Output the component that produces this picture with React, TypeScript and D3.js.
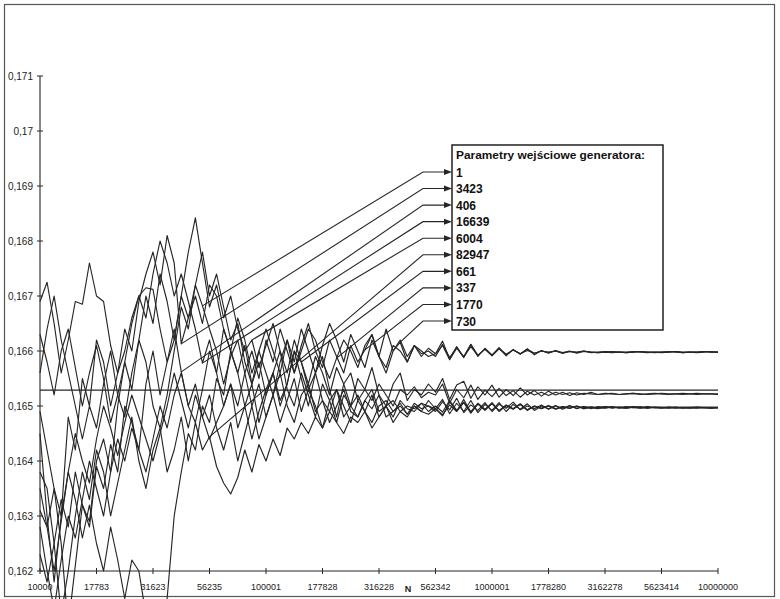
import React from 'react';
import * as d3 from 'd3';

// category labels on the N axis (one every 8 points)
const nLabels = ['10000', '17783', '31623', '56235', '100001', '177828', '316228', '562342',
  '1000001', '1778280', '3162278', '5623414', '10000000'];
const pointsPerLabel = 8;

const yTicks = [0.162, 0.163, 0.164, 0.165, 0.166, 0.167, 0.168, 0.169, 0.17, 0.171];
const yTickLabels = ['0,162', '0,163', '0,164', '0,165', '0,166', '0,167', '0,168', '0,169', '0,17', '0,171'];

const legendTitle = 'Parametry wejściowe generatora:';
const seriesNames = ['1', '3423', '406', '16639', '6004', '82947', '661', '337', '1770', '730'];

// horizontal reference level
const referenceValue = 0.16529;

const s1 = [
  0.16690, 0.16725, 0.16650, 0.16560, 0.16620, 0.16690, 0.16685, 0.16760,
  0.16700, 0.16690, 0.16610, 0.16560, 0.16600, 0.16660, 0.16700, 0.16715,
  0.16712, 0.16640, 0.16580, 0.16620, 0.16700, 0.16660, 0.16720, 0.16682,
  0.16640, 0.16600, 0.16540, 0.16590, 0.16620, 0.16560, 0.16500, 0.16540,
  0.16480, 0.16520, 0.16560, 0.16500, 0.16470, 0.16520, 0.16540, 0.16490,
  0.16510, 0.16470, 0.16500, 0.16530, 0.16490, 0.16480, 0.16510, 0.16495,
  0.16520, 0.16480, 0.16490, 0.16505, 0.16485, 0.16500, 0.16490, 0.16510,
  0.16495, 0.16512, 0.16486, 0.16505, 0.16490, 0.16510, 0.16488, 0.16503,
  0.16492, 0.16506, 0.16490, 0.16503, 0.16494, 0.16504, 0.16492, 0.16500,
  0.16495, 0.16501, 0.16494, 0.16500, 0.16496, 0.16499, 0.16495, 0.16499,
  0.16497, 0.16499, 0.16496, 0.16498, 0.16497, 0.16499, 0.16496, 0.16498,
  0.16497, 0.16498, 0.16497, 0.16497, 0.16496, 0.16497, 0.16498, 0.16497,
  0.16497,
];
const s2 = [
  0.16450, 0.16300, 0.16180, 0.16300, 0.16480, 0.16420, 0.16550, 0.16500,
  0.16620, 0.16580, 0.16500, 0.16560, 0.16640, 0.16600, 0.16690, 0.16740,
  0.16780, 0.16720, 0.16810, 0.16760, 0.16613, 0.16660, 0.16700, 0.16650,
  0.16720, 0.16700, 0.16640, 0.16600, 0.16560, 0.16610, 0.16540, 0.16580,
  0.16520, 0.16560, 0.16600, 0.16530, 0.16500, 0.16560, 0.16520, 0.16480,
  0.16540, 0.16510, 0.16470, 0.16520, 0.16500, 0.16480, 0.16510, 0.16530,
  0.16490, 0.16500, 0.16480, 0.16510, 0.16495, 0.16490, 0.16505, 0.16500,
  0.16495, 0.16482, 0.16508, 0.16490, 0.16512, 0.16488, 0.16504, 0.16493,
  0.16506, 0.16491, 0.16502, 0.16495, 0.16503, 0.16493, 0.16500, 0.16496,
  0.16501, 0.16495, 0.16499, 0.16496, 0.16500, 0.16495, 0.16498, 0.16497,
  0.16499, 0.16496, 0.16498, 0.16497, 0.16499, 0.16497, 0.16496, 0.16498,
  0.16497, 0.16496, 0.16498, 0.16497, 0.16497, 0.16498, 0.16497, 0.16496,
  0.16497,
];
const s3 = [
  0.16310, 0.16280, 0.16350, 0.16250, 0.16100, 0.16210, 0.16320, 0.16280,
  0.16390, 0.16350, 0.16430, 0.16380, 0.16500, 0.16470, 0.16420, 0.16540,
  0.16600, 0.16520, 0.16580, 0.16640, 0.16562, 0.16500, 0.16540, 0.16480,
  0.16520, 0.16460, 0.16420, 0.16470, 0.16400, 0.16450, 0.16500, 0.16440,
  0.16480, 0.16520, 0.16470, 0.16510, 0.16550, 0.16490, 0.16530, 0.16500,
  0.16460, 0.16510, 0.16530, 0.16480, 0.16500, 0.16520, 0.16490, 0.16470,
  0.16500, 0.16510, 0.16490, 0.16500, 0.16485, 0.16505, 0.16495, 0.16500,
  0.16490, 0.16508, 0.16493, 0.16514, 0.16488, 0.16502, 0.16492, 0.16506,
  0.16490, 0.16503, 0.16496, 0.16507, 0.16493, 0.16500, 0.16495, 0.16502,
  0.16494, 0.16500, 0.16496, 0.16501, 0.16495, 0.16499, 0.16497, 0.16495,
  0.16499, 0.16497, 0.16498, 0.16496, 0.16498, 0.16497, 0.16499, 0.16497,
  0.16497, 0.16497, 0.16498, 0.16496, 0.16497, 0.16498, 0.16497, 0.16497,
  0.16498,
];
const s4 = [
  0.16630, 0.16580, 0.16520, 0.16600, 0.16640, 0.16570, 0.16500, 0.16560,
  0.16610, 0.16550, 0.16470, 0.16520, 0.16580, 0.16650, 0.16700, 0.16660,
  0.16740, 0.16800, 0.16760, 0.16700, 0.16740, 0.16690, 0.16640, 0.16578,
  0.16620, 0.16560, 0.16500, 0.16540, 0.16460, 0.16500, 0.16440, 0.16490,
  0.16530, 0.16560, 0.16500, 0.16540, 0.16600, 0.16550, 0.16500, 0.16560,
  0.16590, 0.16530, 0.16480, 0.16540, 0.16560, 0.16510, 0.16530, 0.16570,
  0.16520, 0.16500, 0.16540, 0.16560, 0.16510, 0.16530, 0.16520, 0.16540,
  0.16525, 0.16550, 0.16512, 0.16538, 0.16545, 0.16514, 0.16535, 0.16520,
  0.16538, 0.16516, 0.16530, 0.16519, 0.16533, 0.16520, 0.16528, 0.16518,
  0.16527, 0.16520, 0.16525, 0.16519, 0.16524, 0.16521, 0.16525, 0.16521,
  0.16522, 0.16523, 0.16521, 0.16522, 0.16523, 0.16522, 0.16521, 0.16522,
  0.16523, 0.16522, 0.16522, 0.16521, 0.16522, 0.16523, 0.16522, 0.16522,
  0.16522,
];
const s5 = [
  0.16230, 0.16180, 0.16250, 0.16330, 0.16280, 0.16380, 0.16320, 0.16290,
  0.16400, 0.16440, 0.16380, 0.16500, 0.16580, 0.16530, 0.16620, 0.16700,
  0.16650, 0.16740, 0.16690, 0.16620, 0.16700, 0.16780, 0.16842, 0.16760,
  0.16680, 0.16720, 0.16660, 0.16700, 0.16640, 0.16600, 0.16620, 0.16570,
  0.16610, 0.16650, 0.16600, 0.16560, 0.16620, 0.16580, 0.16540, 0.16590,
  0.16560, 0.16520, 0.16570, 0.16540, 0.16500, 0.16550, 0.16530, 0.16510,
  0.16540, 0.16520, 0.16500, 0.16530, 0.16520, 0.16535, 0.16515, 0.16525,
  0.16520, 0.16540, 0.16505, 0.16530, 0.16515, 0.16538, 0.16512, 0.16529,
  0.16517, 0.16532, 0.16519, 0.16528, 0.16516, 0.16527, 0.16520, 0.16525,
  0.16519, 0.16525, 0.16521, 0.16524, 0.16520, 0.16523, 0.16522, 0.16521,
  0.16523, 0.16522, 0.16521, 0.16522, 0.16523, 0.16521, 0.16522, 0.16523,
  0.16522, 0.16521, 0.16522, 0.16523, 0.16522, 0.16521, 0.16522, 0.16522,
  0.16521,
];
const s6 = [
  0.16380, 0.16350, 0.16250, 0.16120, 0.16200, 0.16300, 0.16380, 0.16330,
  0.16420, 0.16380, 0.16300, 0.16360, 0.16420, 0.16480, 0.16400, 0.16350,
  0.16420, 0.16460, 0.16380, 0.16420, 0.16480, 0.16400, 0.16470, 0.16420,
  0.16444, 0.16390, 0.16360, 0.16340, 0.16370, 0.16420, 0.16380, 0.16430,
  0.16400, 0.16440, 0.16410, 0.16460, 0.16440, 0.16470, 0.16450, 0.16480,
  0.16460, 0.16490, 0.16470, 0.16450, 0.16480, 0.16470, 0.16490, 0.16460,
  0.16480, 0.16500, 0.16470, 0.16490, 0.16480, 0.16500, 0.16490, 0.16485,
  0.16495, 0.16484, 0.16502, 0.16490, 0.16506, 0.16487, 0.16504, 0.16492,
  0.16505, 0.16490, 0.16501, 0.16494, 0.16503, 0.16492, 0.16500, 0.16495,
  0.16500, 0.16494, 0.16498, 0.16496, 0.16500, 0.16495, 0.16498, 0.16497,
  0.16496, 0.16498, 0.16497, 0.16499, 0.16497, 0.16496, 0.16498, 0.16497,
  0.16498, 0.16497, 0.16496, 0.16497, 0.16498, 0.16497, 0.16497, 0.16496,
  0.16497,
];
const s7 = [
  0.16490, 0.16420, 0.16350, 0.16300, 0.16380, 0.16330, 0.16260, 0.16320,
  0.16250, 0.16200, 0.16280, 0.16220, 0.16150, 0.16220, 0.16200, 0.16120,
  0.16050, 0.16000, 0.16150, 0.16300, 0.16380, 0.16450, 0.16420, 0.16500,
  0.16470, 0.16550, 0.16520, 0.16600, 0.16560, 0.16500, 0.16540, 0.16470,
  0.16520, 0.16560, 0.16510, 0.16540, 0.16600, 0.16580, 0.16530, 0.16560,
  0.16510, 0.16490, 0.16530, 0.16500, 0.16470, 0.16510, 0.16490, 0.16520,
  0.16480, 0.16500, 0.16510, 0.16490, 0.16500, 0.16495, 0.16505, 0.16490,
  0.16500, 0.16489, 0.16510, 0.16492, 0.16507, 0.16490, 0.16505, 0.16494,
  0.16504, 0.16492, 0.16501, 0.16495, 0.16504, 0.16493, 0.16499, 0.16496,
  0.16500, 0.16495, 0.16499, 0.16496, 0.16499, 0.16497, 0.16498, 0.16496,
  0.16497, 0.16498, 0.16497, 0.16496, 0.16498, 0.16497, 0.16498, 0.16497,
  0.16496, 0.16498, 0.16497, 0.16498, 0.16497, 0.16496, 0.16497, 0.16498,
  0.16497,
];
const s8 = [
  0.16560, 0.16640, 0.16700, 0.16620, 0.16560, 0.16500, 0.16440, 0.16500,
  0.16460, 0.16540, 0.16600, 0.16520, 0.16480, 0.16560, 0.16620, 0.16580,
  0.16500, 0.16460, 0.16520, 0.16600, 0.16680, 0.16640, 0.16720, 0.16780,
  0.16700, 0.16740, 0.16680, 0.16620, 0.16650, 0.16580, 0.16540, 0.16600,
  0.16560, 0.16520, 0.16580, 0.16620, 0.16560, 0.16600, 0.16640, 0.16620,
  0.16580, 0.16550, 0.16587, 0.16620, 0.16600, 0.16570, 0.16610, 0.16630,
  0.16590, 0.16560, 0.16600, 0.16620, 0.16590, 0.16610, 0.16600, 0.16590,
  0.16595, 0.16618, 0.16585, 0.16608, 0.16588, 0.16612, 0.16590, 0.16605,
  0.16592, 0.16606, 0.16591, 0.16603, 0.16594, 0.16604, 0.16593, 0.16601,
  0.16596, 0.16601, 0.16597, 0.16600, 0.16596, 0.16599, 0.16598, 0.16597,
  0.16598, 0.16599, 0.16598, 0.16597, 0.16598, 0.16599, 0.16598, 0.16598,
  0.16597, 0.16598, 0.16599, 0.16598, 0.16598, 0.16597, 0.16598, 0.16599,
  0.16598,
];
const s9 = [
  0.16350, 0.16280, 0.16200, 0.16290, 0.16380, 0.16450, 0.16400, 0.16360,
  0.16440, 0.16500, 0.16460, 0.16410, 0.16470, 0.16520, 0.16480, 0.16440,
  0.16400, 0.16450, 0.16500, 0.16560, 0.16510, 0.16460, 0.16520, 0.16480,
  0.16440, 0.16470, 0.16500, 0.16540, 0.16500, 0.16560, 0.16600, 0.16550,
  0.16620, 0.16580, 0.16640, 0.16600, 0.16560, 0.16610, 0.16650, 0.16600,
  0.16570, 0.16620, 0.16590, 0.16560, 0.16610, 0.16580, 0.16602, 0.16630,
  0.16590, 0.16570, 0.16610, 0.16600, 0.16580, 0.16610, 0.16595, 0.16600,
  0.16590, 0.16612, 0.16588, 0.16606, 0.16590, 0.16612, 0.16592, 0.16604,
  0.16593, 0.16605, 0.16594, 0.16602, 0.16595, 0.16603, 0.16596, 0.16600,
  0.16597, 0.16600, 0.16596, 0.16599, 0.16598, 0.16600, 0.16597, 0.16598,
  0.16599, 0.16598, 0.16598, 0.16597, 0.16598, 0.16599, 0.16598, 0.16597,
  0.16598, 0.16598, 0.16599, 0.16597, 0.16598, 0.16598, 0.16599, 0.16598,
  0.16598,
];
const s10 = [
  0.16280, 0.16200, 0.16130, 0.16220, 0.16300, 0.16260, 0.16330, 0.16400,
  0.16350, 0.16300, 0.16380, 0.16440, 0.16400, 0.16460, 0.16420, 0.16380,
  0.16440, 0.16500, 0.16460, 0.16520, 0.16560, 0.16500, 0.16470, 0.16530,
  0.16600, 0.16560, 0.16640, 0.16600, 0.16660, 0.16620, 0.16560, 0.16600,
  0.16640, 0.16600, 0.16560, 0.16620, 0.16580, 0.16640, 0.16600, 0.16560,
  0.16610, 0.16650, 0.16620, 0.16580, 0.16630, 0.16600, 0.16570, 0.16620,
  0.16590, 0.16640, 0.16600, 0.16616, 0.16580, 0.16610, 0.16590, 0.16605,
  0.16595, 0.16610, 0.16584, 0.16605, 0.16589, 0.16608, 0.16592, 0.16603,
  0.16591, 0.16604, 0.16593, 0.16602, 0.16595, 0.16601, 0.16596, 0.16600,
  0.16598, 0.16600, 0.16596, 0.16599, 0.16597, 0.16600, 0.16598, 0.16597,
  0.16598, 0.16597, 0.16598, 0.16598, 0.16599, 0.16598, 0.16597, 0.16598,
  0.16598, 0.16599, 0.16598, 0.16597, 0.16598, 0.16598, 0.16599, 0.16598,
  0.16598,
];
const allSeries = [s1, s2, s3, s4, s5, s6, s7, s8, s9, s10];

// point (index along N) where each callout arrow touches its series
const calloutIndex = [23, 20, 20, 23, 30, 24, 37, 42, 46, 51];

const W = 780;
const H = 599;
const ink = '#262626';

const App = () => {
  const nPoints = s1.length;
  const x = d3.scaleLinear().domain([0, nPoints - 1]).range([40, 718]);
  const y = d3.scaleLinear().domain([0.162, 0.171]).range([571, 76]);

  const line = d3.line<number>()
    .x((d, i) => x(i))
    .y(d => y(d));

  // legend box
  const box = { x0: 452, y0: 145, x1: 663, y1: 330 };
  const itemY = d3.scaleLinear().domain([0, seriesNames.length - 1]).range([172, 321]);
  const kneeX = 423;

  const font = '"Liberation Sans", Arial, sans-serif';

  return (
    <div style={{ position: 'absolute', left: 0, top: 0 }}>
      <svg width={W} height={H} style={{ display: 'block', background: '#fff' }}>
        <rect x={4.5} y={4.5} width={770} height={592} fill="none" stroke="#555" strokeWidth={1.2} />

        {/* reference level */}
        <line x1={x(0)} x2={x(nPoints - 1)} y1={y(referenceValue)} y2={y(referenceValue)}
          stroke={ink} strokeWidth={1.2} />

        {/* series */}
        {allSeries.map((s, k) => (
          <path key={k} d={line(s) || ''} fill="none" stroke={ink} strokeWidth={1.15}
            strokeLinejoin="round" />
        ))}

        {/* y axis */}
        <line x1={40} x2={40} y1={y(0.171)} y2={y(0.162)} stroke={ink} strokeWidth={1.1} />
        {yTicks.map((t, i) => (
          <g key={t}>
            <line x1={37} x2={43} y1={y(t)} y2={y(t)} stroke={ink} strokeWidth={1} />
            <text x={33} y={y(t) + 3.5} textAnchor="end" fontFamily={font} fontSize={10}
              fill="#222">{yTickLabels[i]}</text>
          </g>
        ))}

        {/* x axis */}
        <line x1={x(0)} x2={x(nPoints - 1)} y1={y(0.162)} y2={y(0.162)} stroke={ink} strokeWidth={1.1} />
        {nLabels.map((lab, i) => (
          <g key={lab}>
            <line x1={x(i * pointsPerLabel)} x2={x(i * pointsPerLabel)} y1={y(0.162) - 3}
              y2={y(0.162) + 3} stroke={ink} strokeWidth={1} />
            <text x={x(i * pointsPerLabel)} y={590} textAnchor="middle" fontFamily={font}
              fontSize={9} fill="#222">{lab}</text>
          </g>
        ))}
        <text x={408} y={592} textAnchor="middle" fontFamily={font} fontSize={9}
          fontWeight="bold" fill="#222">N</text>

        {/* callouts */}
        {seriesNames.map((name, k) => {
          const iy = itemY(k);
          const ax = x(calloutIndex[k]);
          const ay = y(allSeries[k][calloutIndex[k]]);
          return (
            <g key={name}>
              <polyline points={`${ax},${ay} ${kneeX},${iy} ${box.x0 - 6},${iy}`} fill="none"
                stroke={ink} strokeWidth={1.1} />
              <path d={`M${box.x0},${iy} L${box.x0 - 8},${iy - 3} L${box.x0 - 8},${iy + 3} Z`} fill={ink} />
            </g>
          );
        })}

        {/* legend */}
        <rect x={box.x0} y={box.y0} width={box.x1 - box.x0} height={box.y1 - box.y0}
          fill="#fff" stroke="#111" strokeWidth={1.4} />
        <text x={box.x0 + 4} y={159} fontFamily={font} fontSize={11} fontWeight="bold"
          fill="#111" textLength={189} lengthAdjust="spacingAndGlyphs">{legendTitle}</text>
        {seriesNames.map((name, k) => (
          <text key={name} x={box.x0 + 4} y={itemY(k) + 4.5} fontFamily={font} fontSize={12}
            fontWeight="bold" fill="#111">{name}</text>
        ))}
      </svg>
    </div>
  );
};

export default App;
